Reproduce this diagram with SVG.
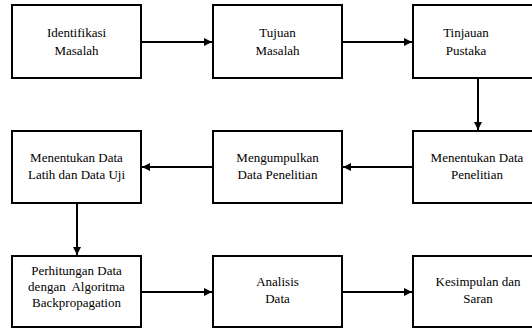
<svg xmlns="http://www.w3.org/2000/svg" width="532" height="329" viewBox="0 0 532 329">
<style>
.b{fill:#fff;stroke:#000;stroke-width:2}
text{font-size:13px;fill:#000;text-anchor:middle}
.c line{stroke:#000;stroke-width:2;marker-end:url(#ah)}
</style>
<defs>
<marker id="ah" viewBox="0 0 10 10" refX="10" refY="5" markerWidth="4" markerHeight="4" orient="auto" markerUnits="strokeWidth">
<path d="M0,0L10,5L0,10z" fill="#000"/>
</marker>
</defs>
<rect width="532" height="329" fill="#fff"/>
<g font-family="Liberation Serif, Times New Roman, serif">
<g id="n1"><rect class="b" x="12" y="5" width="129" height="73"/><text x="76.5" y="37">Identifikasi</text><text x="76.5" y="55">Masalah</text></g>
<g id="n2"><rect class="b" x="213" y="5" width="129" height="73"/><text x="277.5" y="37">Tujuan</text><text x="277.5" y="55">Masalah</text></g>
<g id="n3"><rect class="b" x="413" y="5" width="130" height="73"/><text x="466" y="37">Tinjauan</text><text x="466" y="55">Pustaka</text></g>
<g id="n4"><rect class="b" x="12" y="131" width="129" height="72"/><text x="76.5" y="162">Menentukan Data</text><text x="76.5" y="179">Latih dan Data Uji</text></g>
<g id="n5"><rect class="b" x="213" y="131" width="129" height="72"/><text x="277.5" y="162">Mengumpulkan</text><text x="277.5" y="179">Data Penelitian</text></g>
<g id="n6"><rect class="b" x="413" y="131" width="130" height="72"/><text x="477" y="162">Menentukan Data</text><text x="477" y="179">Penelitian</text></g>
<g id="n7"><rect class="b" x="12" y="256" width="129" height="71"/><text x="76.5" y="275">Perhitungan Data</text><text x="76.5" y="291" xml:space="preserve">dengan  Algoritma</text><text x="76.5" y="307">Backpropagation</text></g>
<g id="n8"><rect class="b" x="213" y="256" width="129" height="71"/><text x="277.5" y="286">Analisis</text><text x="277.5" y="303">Data</text></g>
<g id="n9"><rect class="b" x="413" y="256" width="130" height="71"/><text x="478" y="286">Kesimpulan dan</text><text x="478" y="303">Saran</text></g>
</g>
<g class="c" id="connectors">
<line x1="142" y1="42" x2="212" y2="42"/>
<line x1="343" y1="42" x2="412" y2="42"/>
<line x1="478" y1="79" x2="478" y2="130"/>
<line x1="412" y1="167" x2="343" y2="167"/>
<line x1="212" y1="167" x2="142" y2="167"/>
<line x1="77" y1="204" x2="77" y2="255"/>
<line x1="142" y1="292" x2="212" y2="292"/>
<line x1="343" y1="292" x2="412" y2="292"/>
</g>
</svg>
